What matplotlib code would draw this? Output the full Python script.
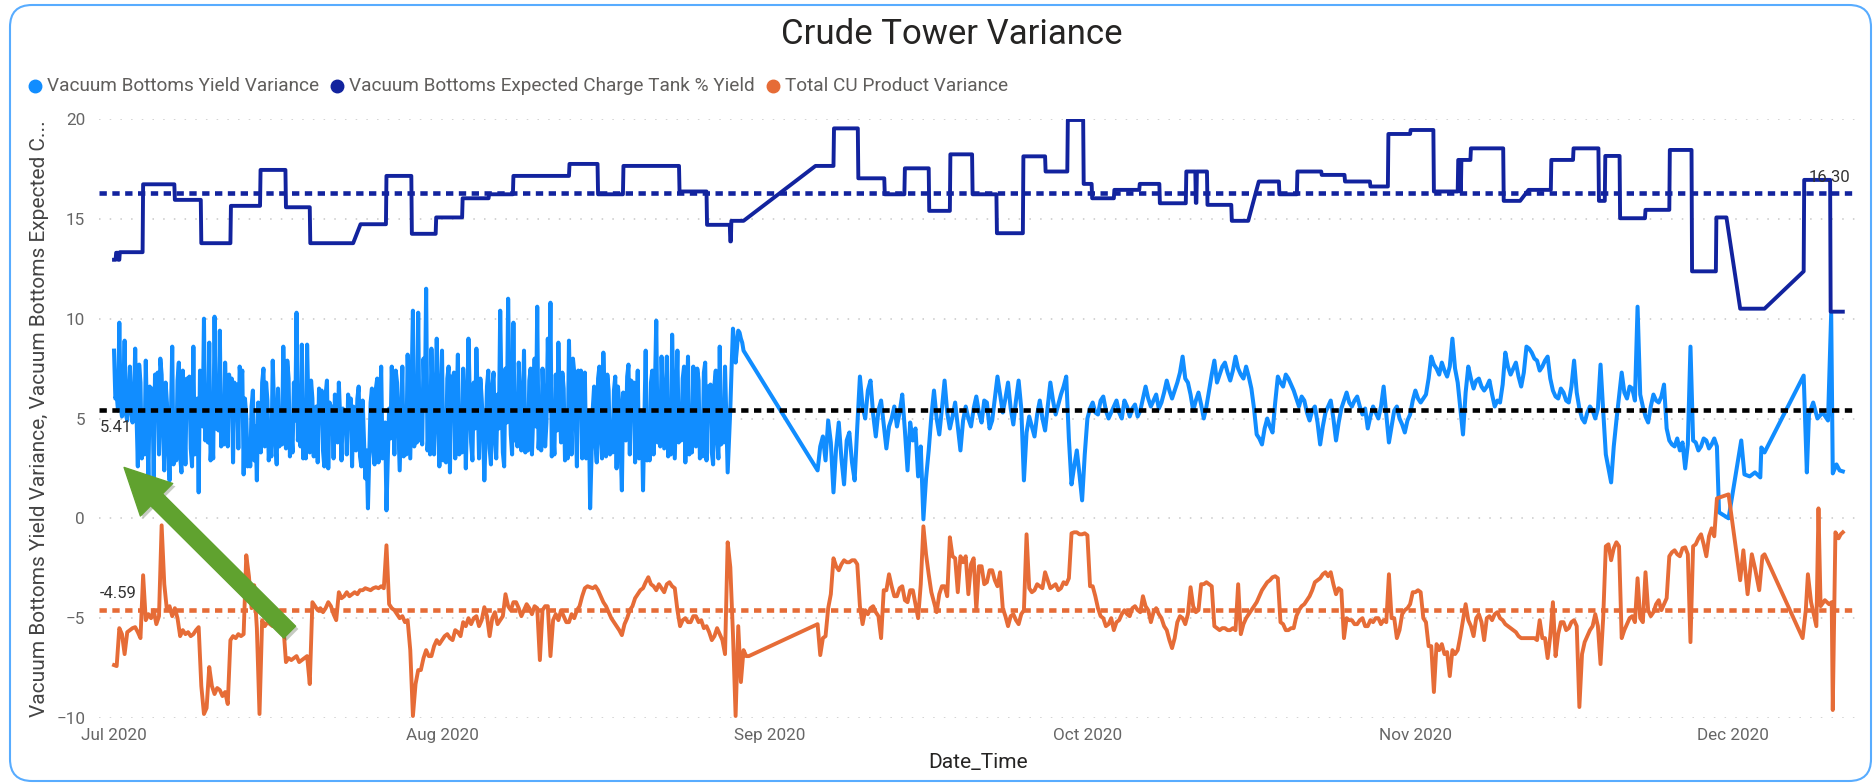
import numpy as np
import matplotlib.pyplot as plt
import matplotlib.dates as mdates
import matplotlib.patheffects as pe
from matplotlib.patches import FancyBboxPatch
from matplotlib.lines import Line2D
from matplotlib.transforms import IdentityTransform

plt.rcParams['font.family'] = ['Roboto', 'DejaVu Sans']

# ---------------- data (days counted from 1 Jul 2020) ----------------
series_names = ["Vacuum Bottoms Yield Variance",
                "Vacuum Bottoms Expected Charge Tank % Yield",
                "Total CU Product Variance"]
series_colors = ["#118DFF", "#12239E", "#E66C37"]
avg_values = [5.41, 16.30, -4.59]
avg_colors = ["#000000", "#12239E", "#E66C37"]

# Vacuum Bottoms Yield Variance, Jul-Aug, every 3 hours from day 0
vb_jul_aug = [
    8.4, 6.0, 6.2, 5.4, 9.8, 5.6, 5.1, 6.3, 8.9, 5.2, 4.9, 6.0, 7.6, 5.4, 4.8, 5.6,      # d0
    8.5, 5.2, 2.6, 7.7, 6.8, 3.0, 4.5, 3.2, 7.9, 4.8, 2.0, 6.6, 5.5, 6.5, 1.9, 7.2,      # d2
    6.3, 7.3, 3.2, 8.0, 7.2, 4.6, 2.4, 6.8, 5.8, 3.5, 1.9, 5.0, 8.6, 2.7, 4.0, 2.9,      # d4
    6.9, 7.8, 3.1, 2.3, 7.4, 5.2, 2.7, 7.0, 6.1, 7.1, 3.5, 2.6, 8.6, 3.2, 4.8, 6.0,      # d6
    1.3, 7.4, 6.5, 4.6, 10.0, 3.9, 5.2, 3.8, 8.8, 2.9, 4.1, 3.0, 10.1, 4.5, 6.0, 4.4,    # d8
    9.4, 3.6, 5.0, 3.7, 7.8, 5.6, 3.6, 7.2, 6.2, 7.0, 2.8, 6.8, 5.9, 6.7, 3.5, 7.6,      # d10
    6.8, 7.4, 2.2, 6.0, 5.1, 2.6, 3.8, 2.6, 5.6, 6.4, 2.9, 4.6, 1.9, 5.8, 4.7, 3.3,      # d12
    6.8, 7.5, 3.6, 6.8, 5.9, 2.9, 4.2, 3.1, 7.9, 5.6, 3.8, 2.7, 6.5, 3.6, 5.0, 3.7,      # d14
    8.6, 5.6, 3.5, 7.9, 7.0, 3.1, 4.4, 3.3, 6.8, 4.9, 10.3, 3.9, 5.0, 3.6, 8.7, 3.0,     # d16
    4.2, 3.0, 8.7, 5.5, 3.3, 6.9, 6.0, 3.1, 4.5, 5.6, 2.8, 6.5, 5.6, 6.4, 3.4, 2.6,      # d18
    6.2, 6.9, 2.5, 5.8, 4.8, 5.6, 3.0, 6.2, 5.4, 3.8, 6.8, 5.0, 2.9, 5.5, 4.6, 5.4,      # d20
    3.2, 6.2, 5.5, 6.0, 2.6, 5.6, 4.9, 3.4, 6.0, 6.6, 3.1, 2.6, 5.9, 4.0, 2.0, 3.4,      # d22
    0.5, 3.2, 5.8, 6.5, 3.4, 2.7, 6.5, 7.0, 2.8, 4.9, 7.6, 3.0, 4.0, 4.8, 0.4, 3.0,      # d24
    5.5, 4.0, 7.6, 5.4, 3.2, 7.4, 6.8, 4.6, 2.4, 5.0, 7.6, 3.1, 4.5, 3.2, 8.2, 5.6,      # d26
    3.0, 6.7, 10.4, 3.6, 4.8, 3.8, 10.3, 3.9, 5.2, 3.7, 8.0, 5.6, 11.5, 3.4, 4.5, 3.2,   # d28
    8.5, 5.9, 3.2, 5.4, 9.0, 6.1, 2.6, 4.8, 8.4, 2.9, 4.0, 2.8, 7.0, 7.6, 2.3, 7.1,      # d30
    6.5, 7.3, 3.0, 5.5, 8.2, 3.2, 4.4, 3.3, 7.5, 5.8, 2.5, 5.4, 9.0, 6.1, 3.8, 2.9,      # d32
    6.8, 4.5, 8.5, 6.0, 3.0, 7.0, 6.0, 4.6, 1.9, 4.0, 6.6, 7.4, 3.5, 2.7, 6.6, 7.3,      # d34
    4.0, 3.0, 6.2, 4.5, 10.4, 6.2, 3.3, 2.6, 7.5, 4.8, 11.0, 6.8, 4.2, 3.2, 9.8, 3.9,    # d36
    5.0, 3.6, 7.8, 5.9, 3.4, 5.0, 8.4, 3.3, 4.6, 3.4, 6.9, 7.5, 3.2, 5.2, 8.0, 4.6,      # d38
    10.6, 3.5, 4.8, 3.4, 7.5, 5.5, 3.6, 4.8, 9.0, 5.5, 10.8, 3.1, 4.4, 3.2, 7.2, 4.4,    # d40
    8.8, 5.8, 3.8, 7.3, 6.5, 2.9, 4.0, 3.0, 8.9, 5.4, 3.2, 8.0, 7.3, 5.2, 2.6, 7.4,      # d42
    6.8, 7.4, 3.0, 5.0, 7.3, 3.0, 4.2, 5.3, 0.5, 3.0, 5.5, 6.6, 3.8, 2.8, 7.0, 7.6,      # d44
    4.0, 3.0, 8.3, 5.7, 3.1, 7.2, 6.4, 3.2, 4.5, 3.3, 6.4, 7.1, 2.5, 6.6, 5.8, 3.6,      # d46
    1.4, 6.3, 5.5, 3.9, 7.1, 7.7, 3.2, 6.9, 6.0, 6.8, 2.8, 5.1, 7.4, 3.0, 4.2, 5.2,      # d48
    1.4, 4.9, 8.4, 2.9, 4.0, 2.9, 6.8, 7.4, 3.2, 6.6, 9.9, 3.8, 5.0, 3.6, 8.1, 5.8,      # d50
    3.5, 5.8, 8.1, 3.1, 4.3, 3.2, 9.2, 6.1, 3.0, 5.7, 8.4, 3.8, 5.4, 3.9, 7.0, 7.6,      # d52
    2.8, 5.4, 8.1, 3.2, 4.6, 3.3, 7.6, 5.6, 3.6, 7.5, 6.9, 3.0, 4.2, 3.1, 7.3, 7.8,      # d54
    2.9, 6.6, 5.8, 6.7, 3.3, 2.7, 6.7, 7.4, 4.0, 3.0, 8.6, 3.7, 5.0, 3.8, 7.6, 5.0,      # d56
    2.3, 3.9, 5.5, 7.6, 9.5, 8.8, 7.8, 8.5, 9.4, 9.3, 9.0, 8.8, 8.4,                    # d58
]
# Sep-Nov, every 6 hours from day 66.5
vb_sep_nov = [
    2.4, 3.6, 4.1, 2.9, 4.9, 3.8, 1.3, 3.5,      # d66.5
    4.8, 3.0, 1.7, 3.9, 4.3, 2.8, 1.9, 4.6,      # d68.5
    7.1, 5.6, 5.0, 6.4, 6.9, 5.2, 4.1, 5.4,      # d70.5
    5.9, 4.7, 3.5, 4.6, 5.0, 5.6, 4.6, 5.3,      # d72.5
    6.2, 4.4, 2.4, 4.8, 3.9, 4.5, 2.1, 3.6,      # d74.5
    -0.05, 2.0, 3.4, 5.1, 6.4, 5.0, 4.2, 5.5,    # d76.5
    6.9, 5.3, 4.5, 5.1, 5.8, 4.6, 3.4, 4.9,      # d78.5
    5.6, 5.0, 4.6, 5.5, 6.1, 5.3, 4.8, 5.9,      # d80.5
    5.8, 4.5, 4.9, 6.0, 7.1, 6.2, 5.3, 6.0,      # d82.5
    6.8, 5.5, 4.7, 5.9, 6.9, 5.5, 1.9, 4.3,      # d84.5
    5.1, 4.6, 4.1, 5.2, 5.9, 5.0, 4.4, 5.6,      # d86.5
    6.8, 5.9, 5.2, 5.7, 6.2, 6.6, 7.1, 4.0,      # d88.5
    1.7, 2.6, 3.4, 2.2, 0.9, 3.2, 5.0, 5.5,      # d90.5
    5.8, 5.3, 5.2, 5.9, 6.1, 5.4, 5.0, 5.3,      # d92.5
    5.6, 5.9, 5.3, 5.0, 5.9, 5.6, 5.1, 5.5,      # d94.5
    5.7, 5.1, 5.4, 6.0, 6.6, 6.0, 5.6, 5.9,      # d96.5
    6.2, 5.5, 5.8, 6.3, 6.9, 6.4, 6.0, 6.4,      # d98.5
    6.8, 7.3, 8.1, 7.0, 6.8, 6.2, 5.4, 5.9,      # d100.5
    6.3, 5.7, 5.0, 5.6, 6.4, 7.2, 7.9, 6.8,      # d102.5
    7.2, 7.6, 7.8, 7.3, 6.9, 7.4, 8.1, 7.5,      # d104.5
    7.2, 7.0, 7.6, 7.1, 6.5, 5.5, 4.2, 4.0,      # d106.5
    3.7, 4.5, 5.0, 4.6, 4.3, 5.8, 7.1, 6.8,      # d108.5
    6.6, 7.2, 7.0, 6.7, 6.4, 6.0, 5.6, 6.1,      # d110.5
    5.9, 5.3, 4.9, 5.4, 5.6, 4.8, 3.7, 4.6,      # d112.5
    5.3, 5.6, 5.9, 5.0, 3.9, 4.8, 5.5, 5.9,      # d114.5
    6.3, 5.8, 5.6, 5.9, 6.1, 5.6, 5.2, 5.5,      # d116.5
    4.5, 5.1, 5.6, 5.3, 5.0, 5.6, 6.6, 5.2,      # d118.5
    3.8, 4.6, 5.4, 5.6, 5.0, 4.7, 4.3, 4.9,      # d120.5
    5.2, 5.9, 6.4, 6.0, 5.8, 6.0, 6.2, 7.0,      # d122.5
    8.1, 7.7, 7.5, 7.2, 7.8, 7.4, 7.1, 7.6,      # d124.5
    9.0, 7.5, 6.8, 5.5, 4.2, 6.3, 7.6, 7.0,      # d126.5
    6.5, 6.9, 7.0, 6.6, 6.4, 6.6, 6.9, 6.2,      # d128.5
    5.6, 5.9, 5.8, 6.7, 8.3, 7.6, 7.2, 7.5,      # d130.5
    7.8, 7.1, 6.6, 7.3, 8.6, 8.5, 8.3, 8.0,      # d132.5
    7.9, 7.4, 7.6, 7.9, 8.1, 7.0, 6.4, 6.1,      # d134.5
    6.0, 6.5, 6.3, 5.9, 5.8, 6.6, 7.9, 6.3,      # d136.5
    5.5, 5.0, 4.8, 5.3, 5.6, 5.4, 5.0, 5.5,      # d138.5
    7.7, 5.4, 3.2, 2.5, 1.8, 3.6, 4.9, 6.1,      # d140.5
    7.3, 6.3, 6.0, 6.6, 6.5, 5.9, 10.6, 6.2,     # d142.5
    5.6, 5.1, 4.8, 5.6, 6.2, 5.9, 5.8, 6.1,      # d144.5
    6.7, 4.5, 3.9, 3.7, 3.6, 4.0, 3.4, 3.8,      # d146.5
    2.5, 3.7, 8.6, 3.9, 3.8, 3.4, 3.6, 4.0,      # d148.5
    3.9, 3.5, 3.7, 4.0, 3.6,                     # d150.5
]
vb_dec_days = [151.7, 152.0, 152.6, 153.8, 154.1, 154.6, 155.1, 155.6, 155.7, 156.0, 159.7,
               160.0, 160.2, 160.6, 161.0, 161.5, 162.0, 162.3, 162.45, 162.8, 163.1, 163.4]
vb_dec_vals = [0.3, 0.2, 0.0, 3.9, 2.2, 2.1, 2.3, 2.05, 3.55, 3.3, 7.15,
               2.3, 5.2, 5.8, 5.0, 5.3, 4.9, 10.25, 2.25, 2.7, 2.4, 2.35]

# Expected Charge Tank % Yield: constant runs (start day, end day, value)
db_start = [0.0, 0.2, 0.4, 0.55, 2.75, 5.75, 8.25, 11.05, 13.85, 16.25, 18.55, 23.3, 25.75,
            28.15, 30.45, 32.95, 35.45, 37.75, 43.05, 45.75, 48.15, 53.45, 56.05, 58.25, 58.35,
            66.3, 68.05, 70.35, 72.85, 74.75, 77.05, 79.05, 81.15, 83.45, 85.95, 88.05, 90.15,
            91.65, 92.45, 94.55, 96.95, 98.85, 101.35, 102.25, 102.35, 103.35, 105.65, 108.2,
            110.15, 111.85, 114.15, 116.35, 118.75, 120.45, 122.55, 124.75, 127.05, 127.25,
            127.35, 128.25, 131.35, 133.7, 135.85, 137.95, 140.35, 140.95, 142.35, 144.75,
            147.05, 149.15, 151.45, 153.7, 159.7, 159.75, 162.25]
db_end = [0.15, 0.35, 0.5, 2.7, 5.7, 8.2, 11.0, 13.8, 16.2, 18.5, 22.6, 25.7, 28.1, 30.4, 32.9,
          35.4, 37.7, 43.0, 45.7, 48.1, 53.4, 56.0, 58.2, 58.3, 59.5, 68.0, 70.3, 72.8, 74.7,
          77.0, 79.0, 81.1, 83.4, 85.9, 88.0, 90.1, 91.6, 92.4, 94.5, 96.9, 98.8, 101.3, 102.2,
          102.3, 103.3, 105.6, 107.2, 110.1, 111.8, 114.1, 116.3, 118.7, 120.4, 122.5, 124.7,
          127.0, 127.2, 127.3, 128.2, 131.3, 132.9, 135.8, 137.9, 140.3, 140.9, 142.3, 144.7,
          147.0, 149.1, 151.4, 152.4, 156.0, 159.7, 162.2, 163.4]
db_val = [12.95, 13.3, 12.95, 13.33, 16.73, 15.95, 13.78, 15.65, 17.45, 15.58, 13.78, 14.73,
          17.15, 14.25, 15.07, 16.03, 16.23, 17.15, 17.75, 16.23, 17.65, 16.37, 14.7, 13.87, 14.9,
          17.65, 19.53, 17.03, 16.23, 17.53, 15.4, 18.23, 16.23, 14.28, 18.13, 17.37, 19.95,
          16.75, 16.03, 16.45, 16.75, 15.78, 17.37, 15.8, 17.37, 15.7, 14.9, 16.87, 16.23,
          17.37, 17.2, 16.87, 16.62, 19.25, 19.45, 16.37, 17.95, 16.37, 17.95, 18.53, 15.9,
          16.45, 17.95, 18.53, 15.9, 18.15, 15.03, 15.45, 18.45, 12.37, 15.07, 10.5, 12.37,
          16.95, 10.35]

# Total CU Product Variance, Jul-Aug, every 6 hours from day 0
cu_jul_aug = [
    -7.35, -7.4, -5.5, -5.8, -6.8, -5.7, -5.6, -5.5,          # d0
    -5.45, -5.7, -6.0, -2.85, -5.1, -4.8, -5.0, -4.6,         # d2
    -5.3, -4.9, -0.35, -3.3, -4.6, -4.4, -4.9, -4.5,          # d4
    -5.0, -5.9, -5.6, -5.8, -5.7, -5.9, -5.8, -5.6,           # d6
    -5.45, -8.4, -9.8, -9.5, -7.45, -8.4, -8.8, -8.5,         # d8
    -8.6, -8.9, -8.7, -9.3, -6.1, -5.9, -6.0, -5.8,           # d10
    -5.9, -5.8, -1.85, -2.9, -4.5, -3.35, -5.5, -9.8,         # d12
    -5.1, -5.4, -5.2, -5.3, -5.4, -5.1, -5.3, -5.2,           # d14
    -5.35, -7.2, -7.0, -7.1, -7.0, -6.9, -7.2, -7.1,          # d16
    -7.0, -6.9, -8.3, -4.2, -4.4, -4.6, -4.5, -4.7,           # d18
    -4.5, -4.2, -4.4, -4.8, -5.1, -3.7, -4.0, -3.9,           # d20
    -3.7, -3.9, -3.8, -3.7, -3.8, -3.6, -3.6, -3.5,           # d22
    -3.55, -3.6, -3.5, -3.45, -3.5, -3.4, -3.5, -1.35,        # d24
    -4.3, -4.5, -4.6, -4.8, -5.0, -4.9, -5.2, -5.1,           # d26
    -6.6, -9.9, -8.3, -7.6, -7.6, -7.0, -6.6, -6.9,           # d28
    -6.9, -6.4, -6.1, -6.3, -6.1, -5.9, -5.8, -6.0,           # d30
    -6.1, -5.6, -5.7, -5.9, -5.2, -5.4, -5.0, -5.3,           # d32
    -5.0, -4.9, -5.4, -5.1, -4.45, -4.9, -5.9, -5.0,          # d34
    -4.7, -5.3, -5.1, -4.9, -3.8, -4.4, -4.6, -4.2,           # d36
    -4.2, -4.5, -4.9, -4.6, -4.3, -4.5, -4.8, -4.4,           # d38
    -4.5, -7.1, -4.6, -4.4, -4.4, -6.9, -5.1, -4.8,           # d40
    -5.1, -4.6, -4.9, -5.2, -5.2, -4.8, -5.0, -4.6,           # d42
    -4.4, -3.9, -3.5, -3.4, -3.45, -3.5, -3.4, -3.6,          # d44
    -3.9, -4.2, -4.4, -4.7, -5.0, -5.2, -5.4, -5.6,           # d46
    -5.85, -5.3, -5.0, -4.6, -4.4, -4.0, -3.8, -3.6,          # d48
    -3.5, -3.2, -2.95, -3.3, -3.4, -3.6, -3.3, -3.5,          # d50
    -3.7, -3.3, -3.2, -3.4, -3.5, -4.6, -5.4, -5.1,           # d52
    -5.0, -5.2, -5.2, -4.9, -4.9, -5.2, -5.1, -5.5,           # d54
    -5.4, -5.7, -6.1, -5.9, -5.5, -5.8, -6.1, -6.8,           # d56
    -1.2, -2.45, -5.8, -9.9, -5.4, -8.2, -6.6, -6.9,          # d58
    -6.9,                                                     # d60
]
# Sep-Nov, every 6 hours from day 66.5
cu_sep_nov = [
    -5.3, -6.85, -6.0, -5.9, -4.5, -3.8, -2.0, -2.4,          # d66.5
    -2.6, -2.3, -2.1, -2.2, -2.2, -2.1, -2.1, -2.3,           # d68.5
    -4.4, -5.3, -4.6, -4.8, -4.5, -4.4, -4.7, -4.9,           # d70.5
    -6.0, -3.6, -3.6, -2.8, -3.4, -3.9, -3.9, -3.5,           # d72.5
    -3.4, -4.1, -4.2, -3.6, -3.6, -4.3, -5.0, -3.3,           # d74.5
    -0.4, -1.8, -2.8, -3.7, -4.2, -4.7, -3.8, -3.4,           # d76.5
    -3.4, -3.9, -0.95, -1.9, -2.0, -3.7, -1.9, -2.2,          # d78.5
    -1.9, -3.8, -2.3, -2.0, -4.6, -2.4, -2.4, -3.3,           # d80.5
    -3.2, -2.6, -2.6, -3.1, -3.4, -2.7, -4.5, -4.9,           # d82.5
    -5.4, -4.9, -4.8, -5.1, -5.3, -4.8, -4.6, -0.8,           # d84.5
    -3.5, -3.7, -3.6, -3.3, -3.4, -3.5, -2.7, -3.1,           # d86.5
    -3.5, -3.4, -3.3, -3.6, -3.5, -3.2, -3.3, -3.0,           # d88.5
    -0.75, -0.7, -0.7, -0.8, -0.8, -0.75, -0.85, -3.4,        # d90.5
    -3.4, -3.9, -4.5, -4.9, -5.0, -5.4, -5.3, -5.0,           # d92.5
    -5.6, -5.2, -5.1, -4.8, -4.6, -4.8, -4.9, -4.5,           # d94.5
    -4.4, -4.6, -4.7, -3.9, -4.4, -4.6, -5.2, -4.7,           # d96.5
    -4.5, -4.8, -5.0, -5.4, -5.6, -6.1, -6.5, -6.0,           # d98.5
    -5.2, -4.9, -5.0, -5.3, -4.8, -3.45, -4.4, -4.7,          # d100.5
    -4.6, -3.3, -3.3, -3.2, -3.3, -3.4, -5.4, -5.5,           # d102.5
    -5.6, -5.5, -5.5, -5.6, -5.6, -5.5, -5.6, -3.3,           # d104.5
    -5.8, -5.3, -5.0, -4.8, -4.6, -4.4, -4.2, -3.9,           # d106.5
    -3.6, -3.4, -3.2, -3.1, -2.95, -2.9, -3.0, -5.2,          # d108.5
    -5.3, -5.6, -5.6, -5.5, -5.5, -4.9, -4.6, -4.4,           # d110.5
    -4.3, -4.1, -3.9, -3.6, -3.2, -3.1, -3.0, -2.8,           # d112.5
    -2.7, -2.9, -2.7, -3.3, -3.8, -3.5, -3.6, -6.0,           # d114.5
    -5.0, -5.1, -5.1, -5.3, -5.3, -5.1, -5.0, -5.4,           # d116.5
    -5.4, -5.1, -5.2, -5.0, -5.0, -5.3, -5.1, -5.2,           # d118.5
    -2.8, -5.0, -5.0, -6.0, -5.6, -4.8, -4.6, -4.5,           # d120.5
    -4.3, -3.7, -3.7, -3.6, -3.7, -5.0, -5.2, -6.4,           # d122.5
    -6.4, -8.7, -6.3, -6.6, -6.3, -6.8, -6.7, -7.9,           # d124.5
    -6.6, -6.8, -6.6, -5.9, -5.1, -4.3, -5.1, -5.4,           # d126.5
    -5.9, -5.0, -4.8, -5.2, -6.1, -5.0, -4.9, -5.1,           # d128.5
    -4.8, -4.7, -5.0, -5.1, -5.3, -5.4, -5.5, -5.6,           # d130.5
    -5.7, -5.9, -6.0, -6.0, -6.0, -6.0, -6.0, -6.0,           # d132.5
    -6.1, -5.1, -6.0, -6.0, -7.0, -5.9, -4.2, -6.9,           # d134.5
    -5.8, -5.2, -5.2, -5.6, -5.5, -5.2, -5.1, -5.4,           # d136.5
    -9.45, -6.8, -6.2, -5.9, -5.6, -5.4, -4.8, -5.4,          # d138.5
    -7.3, -5.0, -1.4, -1.3, -2.1, -1.5, -1.2, -1.4,           # d140.5
    -6.0, -5.6, -5.3, -5.0, -4.9, -5.2, -3.0, -5.0,           # d142.5
    -5.2, -2.7, -4.6, -4.9, -4.7, -4.3, -4.1, -4.6,           # d144.5
    -4.3, -4.0, -1.9, -1.7, -1.6, -1.8, -1.9, -1.5,           # d146.5
    -1.45, -1.8, -6.2, -1.4, -1.3, -1.0, -0.8, -1.3,          # d148.5
    -1.9, -0.9, -0.5, -0.9, 1.0,                              # d150.5
]
cu_dec_days = [152.6, 153.7, 154.0, 154.4, 154.8, 155.1, 155.5, 155.8, 156.0, 159.6, 159.9, 160.1,
               160.4, 160.9, 161.1, 161.3, 161.7, 162.1, 162.35, 162.45, 162.7, 163.0, 163.2, 163.4]
cu_dec_vals = [1.2, -3.1, -1.6, -3.8, -1.8, -2.5, -3.6, -1.9, -1.8, -6.0, -4.6, -2.8,
               -4.2, -5.4, 0.5, -4.4, -4.1, -4.3, -4.2, -9.6, -0.7, -1.0, -0.8, -0.7]

# ---------------- helpers ----------------
START = np.datetime64('2020-07-01T00:00')


def to_dates(days):
    return START + np.round(np.asarray(days, dtype=float) * 1440).astype('timedelta64[m]')


def regular(start, step, vals):
    return start + step * np.arange(len(vals))


vb_days = np.concatenate([regular(0, 0.125, vb_jul_aug), regular(66.5, 0.25, vb_sep_nov), vb_dec_days])
vb_vals = np.concatenate([vb_jul_aug, vb_sep_nov, vb_dec_vals])
cu_days = np.concatenate([regular(0, 0.25, cu_jul_aug), regular(66.5, 0.25, cu_sep_nov), cu_dec_days])
cu_vals = np.concatenate([cu_jul_aug, cu_sep_nov, cu_dec_vals])
db_days = np.column_stack([db_start, db_end]).ravel()
db_vals = np.repeat(db_val, 2)

# ---------------- figure ----------------
W, H = 1875, 783
fig = plt.figure(figsize=(W / 100, H / 100), dpi=100)
ax = fig.add_axes([99 / W, 65 / H, 1758 / W, 599 / H])

ax.plot(to_dates(vb_days), vb_vals, color=series_colors[0], lw=2.9, solid_joinstyle='round', zorder=3)
ax.plot(to_dates(db_days), db_vals, color=series_colors[1], lw=2.8, solid_joinstyle='round', zorder=4)
ax.plot(to_dates(cu_days), cu_vals, color=series_colors[2], lw=2.8, solid_joinstyle='round', zorder=5)

for v, c in zip(avg_values, avg_colors):
    ax.axhline(v, color=c, lw=3.3, linestyle=(0, (1.6, 1.2)), dash_capstyle='butt', zorder=6)

lab = dict(fontsize=12, color='#333333', zorder=7)
ax.annotate(f"{avg_values[1]:.2f}", xy=(1, avg_values[1]), xycoords=('axes fraction', 'data'),
            xytext=(-7, 8), textcoords='offset pixels', ha='right', va='bottom', **lab)
ax.annotate(f"{avg_values[0]:.2f}", xy=(0, avg_values[0]), xycoords=('axes fraction', 'data'),
            xytext=(1, -10), textcoords='offset pixels', ha='left', va='top', **lab)
ax.annotate(f"{avg_values[2]:.2f}", xy=(0, avg_values[2]), xycoords=('axes fraction', 'data'),
            xytext=(1, 9), textcoords='offset pixels', ha='left', va='bottom', **lab)

# green call-out arrow
ax.annotate('', xy=(mdates.date2num(to_dates(0.95)), 2.55),
            xytext=(mdates.date2num(to_dates(16.6)), -5.7),
            arrowprops=dict(arrowstyle='simple,head_length=1.5,head_width=1.5,tail_width=0.55',
                            mutation_scale=22, color='#60A22F', shrinkA=0, shrinkB=0,
                            path_effects=[pe.SimplePatchShadow(offset=(2, -2), alpha=0.25),
                                          pe.Normal()]),
            zorder=10)

ax.set_ylim(-10, 20)
ax.set_yticks(np.arange(-10, 21, 5))
ax.set_xlim(to_dates(-1.42), to_dates(164.74))
ax.xaxis.set_major_locator(mdates.MonthLocator())
ax.xaxis.set_major_formatter(mdates.DateFormatter('%b %Y'))
ax.grid(axis='y', color='#C8C8C8', linestyle=(0, (1, 6)), lw=1.1)
ax.grid(axis='x', visible=False)
ax.tick_params(axis='both', length=0, labelsize=12.3, labelcolor='#666666')
ax.tick_params(axis='y', pad=10)
ax.tick_params(axis='x', pad=7)
for s in ax.spines.values():
    s.set_visible(False)

ax.set_ylabel("Vacuum Bottoms Yield Variance, Vacuum Bottoms Expected C...",
              fontsize=15, color='#444444', va='center')
ax.yaxis.set_label_coords((40 - 99) / 1758, 0.5)
ax.set_xlabel("Date_Time", fontsize=15, color='#252423', va='center')
ax.xaxis.set_label_coords(0.5, (20 - 65) / 599)

fig.text(952 / W, 1 - 35 / H, "Crude Tower Variance", fontsize=25, color='#252423',
         ha='center', va='center')

# legend row
renderer = fig.canvas.get_renderer()
x = 35
for name, col in zip(series_names, series_colors):
    fig.add_artist(Line2D([x], [H - 86], marker='o', ms=9, color=col, lw=0,
                          transform=IdentityTransform()))
    t = fig.text(x + 12, H - 86, name, fontsize=13.7, color='#605E5C', va='center',
                 transform=IdentityTransform())
    x = t.get_window_extent(renderer).x1 + 18

# visual border
fig.add_artist(FancyBboxPatch((10, 2), 1861, 776, boxstyle='round,pad=0,rounding_size=22',
                              fill=False, ec='#58ACFF', lw=1.5, transform=IdentityTransform()))

fig.savefig('out.png', dpi=100)
